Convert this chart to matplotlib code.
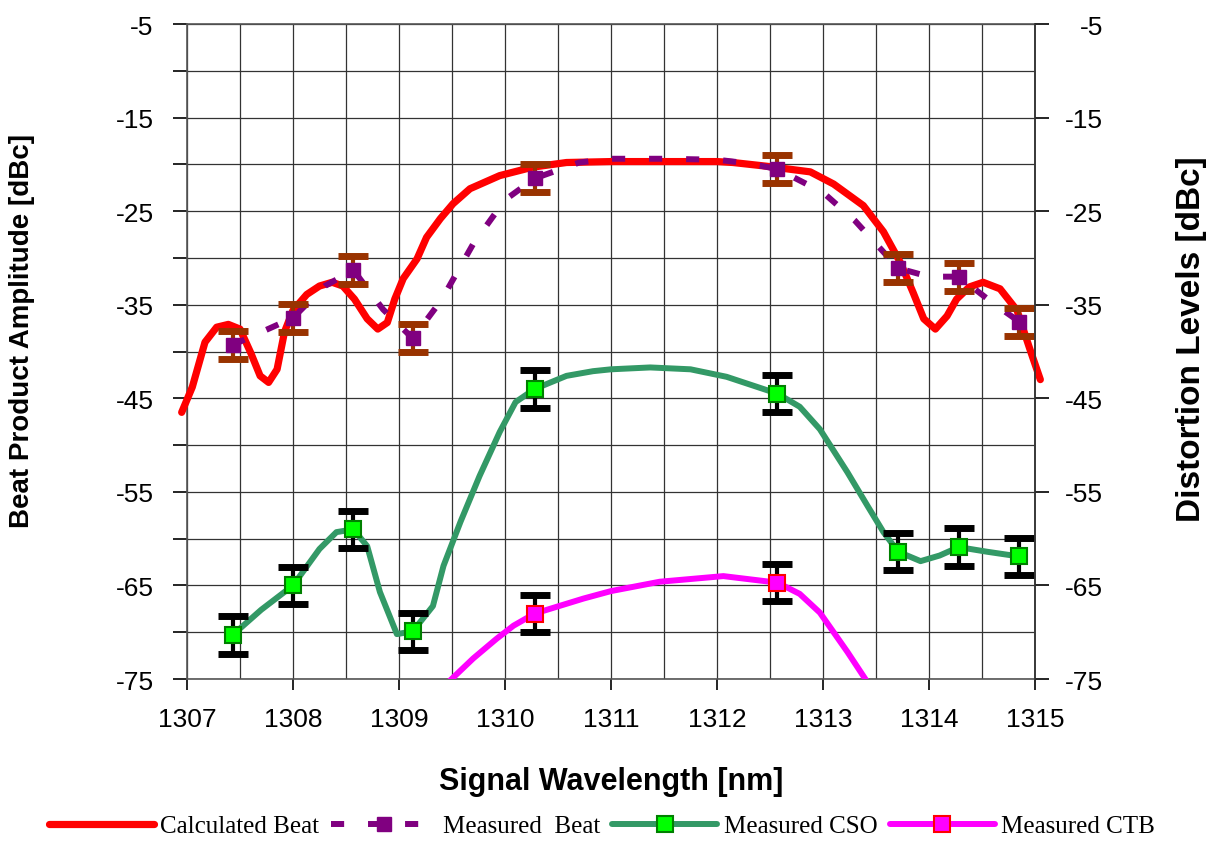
import matplotlib
matplotlib.use("Agg")
import matplotlib.pyplot as plt
from matplotlib.lines import Line2D
from matplotlib.ticker import NullLocator

# measured points (same wavelengths for beat and CSO)
meas_x = [1307.43, 1308.0, 1308.57, 1309.13, 1310.28, 1312.57, 1313.71, 1314.28, 1314.85]
beat_meas = [-39.3, -36.4, -31.3, -38.6, -21.5, -20.5, -31.1, -32.0, -36.8]
beat_err = 1.5
cso_meas = [-70.3, -65.0, -59.0, -69.9, -44.0, -44.5, -61.4, -60.9, -61.9]
cso_err = 2.0
ctb_x = [1310.28, 1312.57]
ctb_meas = [-68.0, -64.7]
ctb_err = 2.0

# calculated beat curve
calc_x = [1306.95, 1307.05, 1307.17, 1307.28, 1307.39, 1307.5, 1307.6, 1307.69, 1307.77,
          1307.85, 1307.92, 1308.0, 1308.13, 1308.25, 1308.37, 1308.47, 1308.58, 1308.7,
          1308.8, 1308.89, 1308.96, 1309.04, 1309.17, 1309.26, 1309.39, 1309.51, 1309.67,
          1309.95, 1310.26, 1310.58, 1311.0, 1311.5, 1312.0, 1312.15, 1312.47, 1312.88,
          1313.1, 1313.38, 1313.57, 1313.73, 1313.85, 1313.95, 1314.06, 1314.17, 1314.26,
          1314.38, 1314.51, 1314.67, 1314.83, 1314.95, 1315.05]
calc_beat = [-46.5, -43.8, -39.0, -37.4, -37.1, -37.6, -40.1, -42.6, -43.3,
             -41.9, -37.9, -35.6, -33.9, -33.0, -32.6, -33.0, -34.4, -36.5,
             -37.6, -36.9, -34.4, -32.2, -30.1, -27.8, -25.8, -24.2, -22.6,
             -21.2, -20.3, -19.8, -19.7, -19.7, -19.7, -19.8, -20.2, -20.8,
             -22.1, -24.4, -27.2, -30.5, -33.7, -36.5, -37.6, -36.2, -34.4,
             -33.1, -32.6, -33.3, -35.6, -39.7, -43.0]

# dashed measured-beat trend
beat_line_x = [1307.43, 1308.0, 1308.3, 1308.57, 1308.85, 1309.13, 1309.4, 1309.7, 1310.0,
               1310.28, 1310.7, 1311.0, 1311.5, 1312.0, 1312.3, 1312.57, 1313.0, 1313.3,
               1313.71, 1314.0, 1314.28, 1314.6, 1314.85]
beat_line = [-39.3, -36.4, -33.0, -31.3, -35.5, -38.6, -34.5, -28.5, -23.8,
             -21.5, -19.8, -19.4, -19.4, -19.5, -19.9, -20.5, -23.0, -26.0,
             -31.1, -32.0, -32.0, -34.8, -36.8]

# CSO trend
cso_line_x = [1307.43, 1307.7, 1308.0, 1308.25, 1308.41, 1308.57, 1308.7, 1308.82, 1308.98,
              1309.13, 1309.32, 1309.42, 1309.58, 1309.76, 1309.95, 1310.1, 1310.28, 1310.58,
              1310.83, 1311.0, 1311.37, 1311.75, 1312.09, 1312.57, 1312.78, 1312.97, 1313.23,
              1313.42, 1313.57, 1313.71, 1313.92, 1314.1, 1314.28, 1314.55, 1314.85]
cso_line = [-70.3, -67.6, -65.0, -61.1, -59.3, -59.0, -60.8, -65.7, -70.2,
            -69.9, -67.2, -62.9, -58.2, -53.3, -48.6, -45.4, -44.0, -42.6,
            -42.1, -41.9, -41.7, -41.9, -42.7, -44.5, -45.9, -48.3, -52.9,
            -56.5, -59.3, -61.4, -62.4, -61.8, -60.9, -61.4, -61.9]

# CTB trend
ctb_line_x = [1309.45, 1309.7, 1309.92, 1310.08, 1310.28, 1310.74, 1311.0, 1311.46, 1312.06,
              1312.57, 1312.78, 1312.97, 1313.23, 1313.44]
ctb_line = [-75.5, -72.8, -70.7, -69.3, -68.0, -66.4, -65.6, -64.6, -64.0,
            -64.7, -65.9, -67.9, -72.1, -75.7]

plt.rcParams["font.family"] = ["Liberation Sans", "DejaVu Sans"]
plt.rcParams["axes.unicode_minus"] = False

RED = "#ff0000"
PURPLE = "#800080"
BROWN = "#993300"
GREEN = "#339966"
LIME = "#00ff00"
MAGENTA = "#ff00ff"

fig = plt.figure(figsize=(12.11, 8.54), dpi=100)
ax = fig.add_axes([0.1544, 0.2037, 0.7003, 0.767])

ax.plot(calc_x, calc_beat, color=RED, lw=5.2, solid_capstyle="round", zorder=3, clip_on=False)
ax.plot(beat_line_x, beat_line, color=PURPLE, lw=4.3, dashes=(2.2, 4.0),
        dash_capstyle="butt", zorder=4)
ax.errorbar(meas_x, beat_meas, yerr=beat_err, fmt="none", ecolor=BROWN, elinewidth=3,
            capsize=11, capthick=5, zorder=5)
ax.plot(meas_x, beat_meas, ls="none", marker="s", ms=10, color=PURPLE, zorder=6)

ax.plot(cso_line_x, cso_line, color=GREEN, lw=4.3, solid_capstyle="round", zorder=3)
ax.errorbar(meas_x, cso_meas, yerr=cso_err, fmt="none", ecolor="black", elinewidth=3,
            capsize=11, capthick=5, zorder=5)
ax.plot(meas_x, cso_meas, ls="none", marker="s", ms=11, mfc=LIME, mec="#008000",
        mew=1.5, zorder=6)

ax.plot(ctb_line_x, ctb_line, color=MAGENTA, lw=4.3, solid_capstyle="round", zorder=3)
ax.errorbar(ctb_x, ctb_meas, yerr=ctb_err, fmt="none", ecolor="black", elinewidth=3,
            capsize=11, capthick=5, zorder=5)
ax.plot(ctb_x, ctb_meas, ls="none", marker="s", ms=11, mfc=MAGENTA, mec=RED,
        mew=1.5, zorder=6)

ax.set_xlim(1307, 1315)
ax.set_ylim(-75, -5)

ax2 = ax.twinx()
ax2.set_ylim(-75, -5)
ax2.set_yticks(range(-75, 0, 10))
ax2.yaxis.set_minor_locator(NullLocator())

ax.set_xticks(range(1307, 1316))
ax.set_xticks([1307.5 + i for i in range(8)], minor=True)
ax.set_yticks(range(-75, 0, 10))
ax.set_yticks(range(-70, 0, 10), minor=True)
ax.grid(True, which="both", color="#333333", lw=0.9)
ax.set_axisbelow(True)
ax.tick_params(axis="y", which="both", direction="out", length=10, width=1.2,
               labelsize=19, pad=14)
ax.tick_params(axis="x", which="major", direction="out", length=8, width=1.2,
               labelsize=19, pad=12)
ax.tick_params(axis="x", which="minor", length=0)
for s in ax.spines.values():
    s.set_color("#555555")
    s.set_linewidth(1.2)

ax2.tick_params(axis="y", direction="out", length=10, width=1.2, labelsize=19, pad=39)
for lab in ax2.get_yticklabels():
    lab.set_horizontalalignment("right")
for s in ax2.spines.values():
    s.set_visible(False)
ax2.spines["right"].set_visible(True)
ax2.spines["right"].set_color("#333333")
ax2.spines["right"].set_linewidth(1.2)

ax.set_xlabel("Signal Wavelength [nm]", fontsize=22, fontweight="bold", labelpad=25)
fig.text(0.018, 0.612, "Beat Product Amplitude [dBc]", rotation=90, fontsize=20,
         fontweight="bold", ha="center", va="center")
fig.text(0.984, 0.603, "Distortion Levels [dBc]", rotation=90, fontsize=24,
         fontweight="bold", ha="center", va="center")

handles = [
    Line2D([], [], color=RED, lw=5.2, solid_capstyle="round"),
    Line2D([], [], color=PURPLE, lw=4.3, dashes=(2.2, 4.0), marker="s", ms=10),
    Line2D([], [], color=GREEN, lw=4.3, marker="s", ms=11, mfc=LIME, mec="#008000",
           mew=1.5, solid_capstyle="round"),
    Line2D([], [], color=MAGENTA, lw=4.3, marker="s", ms=11, mfc=MAGENTA, mec=RED,
           mew=1.5, solid_capstyle="round"),
]
labels = ["Calculated Beat", "Measured  Beat", "Measured CSO", "Measured CTB"]
fig.legend(handles, labels, loc="lower center", bbox_to_anchor=(0.497, -0.008), ncol=4,
           frameon=False, handlelength=4.2, handletextpad=0.25, columnspacing=0.5,
           prop={"family": "Liberation Serif", "size": 18})

fig.savefig("out.png", dpi=100)
